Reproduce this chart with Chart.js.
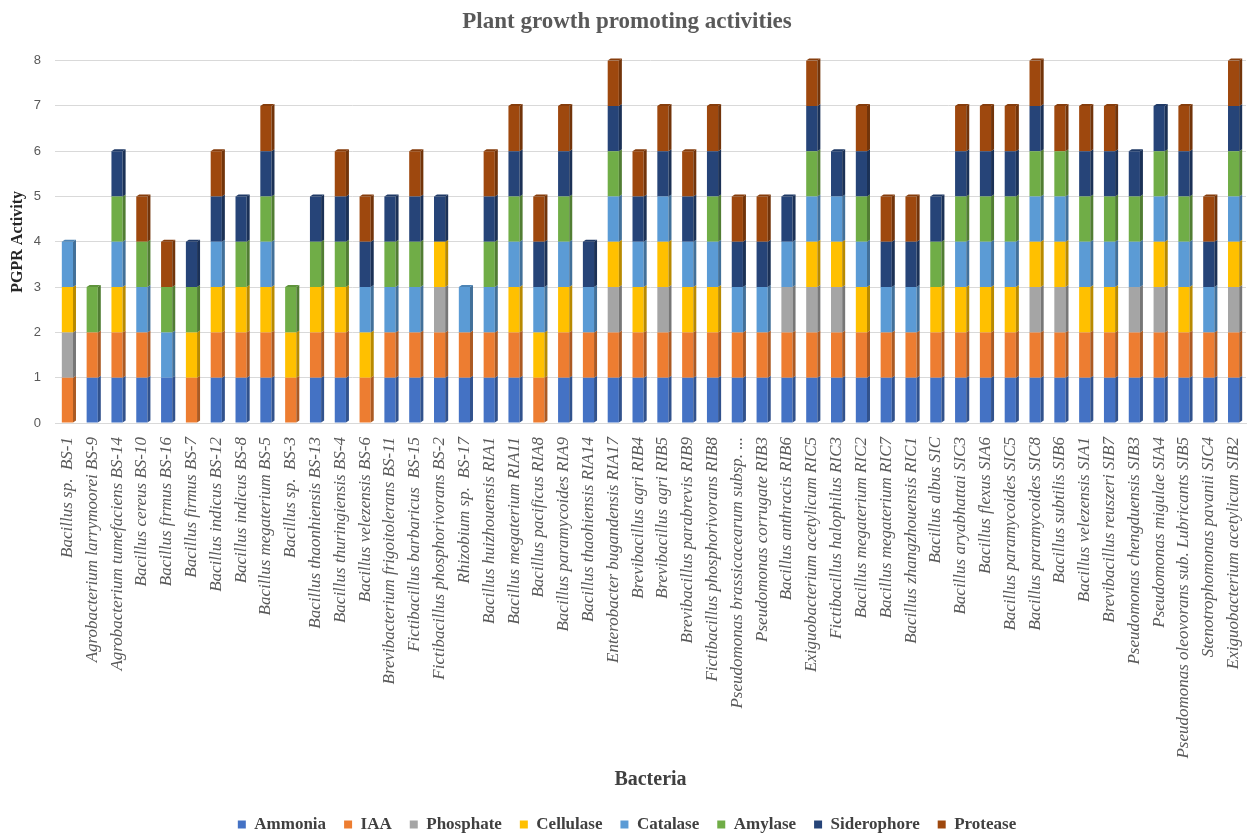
<!DOCTYPE html>
<html>
<head>
<meta charset="utf-8">
<title>Plant growth promoting activities</title>
<script src="https://cdn.jsdelivr.net/npm/chart.js@4.4.1/dist/chart.umd.min.js"></script>
<style>
  html, body { margin: 0; padding: 0; background: #ffffff; }
  #wrap { width: 1247px; height: 838px; position: relative; }
</style>
</head>
<body>
<div id="wrap"><canvas id="pgpr" width="1247" height="838"></canvas></div>
<script>
// Bacterial isolates (x-axis categories)
const isolates = [
  "Bacillus sp.  BS-1", "Agrobacterium larrymoorei BS-9", "Agrobacterium tumefaciens BS-14",
  "Bacillus cereus BS-10", "Bacillus firmus BS-16", "Bacillus firmus BS-7",
  "Bacillus indicus BS-12", "Bacillus indicus BS-8", "Bacillus megaterium BS-5",
  "Bacillus sp.  BS-3", "Bacillus thaonhiensis BS-13", "Bacillus thuringiensis BS-4",
  "Bacillus velezensis BS-6", "Brevibacterium frigoitolerans BS-11", "Fictibacillus barbaricus  BS-15",
  "Fictibacillus phosphorivorans BS-2", "Rhizobium sp.  BS-17", "Bacillus huizhouensis RIA1",
  "Bacillus megaterium RIA11", "Bacillus pacificus RIA8", "Bacillus paramycoides RIA9",
  "Bacillus thaohiensis RIA14", "Enterobacter bugandensis RIA17", "Brevibacillus agri RIB4",
  "Brevibacillus agri RIB5", "Brevibacillus parabrevis RIB9", "Fictibacillus phosphorivorans RIB8",
  "Pseudomonas brassicacearum subsp. ...", "Pseudomonas corrugate RIB3", "Bacillus anthracis RIB6",
  "Exiguobacterium acetylicum RIC5", "Fictibacillus halophilus RIC3", "Bacillus megaterium RIC2",
  "Bacillus megaterium RIC7", "Bacillus zhangzhouensis RIC1", "Bacillus albus SIC",
  "Bacillus aryabhattai SIC3", "Bacillus flexus SIA6", "Bacillus paramycoides SIC5",
  "Bacillus paramycoides SIC8", "Bacillus subtilis SIB6", "Bacillus velezensis SIA1",
  "Brevibacillus reuszeri SIB7", "Pseudomonas chengduensis SIB3", "Pseudomonas migulae SIA4",
  "Pseudomonas oleovorans sub. Lubricants SIB5", "Stenotrophomonas pavanii SIC4", "Exiguobacterium acetylicum SIB2"
];

// Activity scores per test (1 = positive, 0 = negative), one entry per isolate
const ammonia     = [0,1,1,1,1,0,1,1,1,0,1,1,0,1,1,1,1,1,1,0,1,1,1,1,1,1,1,1,1,1,1,1,1,1,1,1,1,1,1,1,1,1,1,1,1,1,1,1];
const iaa         = [1,1,1,1,0,1,1,1,1,1,1,1,1,1,1,1,1,1,1,1,1,1,1,1,1,1,1,1,1,1,1,1,1,1,1,1,1,1,1,1,1,1,1,1,1,1,1,1];
const phosphate   = [1,0,0,0,0,0,0,0,0,0,0,0,0,0,0,1,0,0,0,0,0,0,1,0,1,0,0,0,0,1,1,1,0,0,0,0,0,0,0,1,1,0,0,1,1,0,0,1];
const cellulase   = [1,0,1,0,0,1,1,1,1,1,1,1,1,0,0,1,0,0,1,1,1,0,1,1,1,1,1,0,0,0,1,1,1,0,0,1,1,1,1,1,1,1,1,0,1,1,0,1];
const catalase    = [1,0,1,1,1,0,1,0,1,0,0,0,1,1,1,0,1,1,1,1,1,1,1,1,1,1,1,1,1,1,1,1,1,1,1,0,1,1,1,1,1,1,1,1,1,1,1,1];
const amylase     = [0,1,1,1,1,1,0,1,1,1,1,1,0,1,1,0,0,1,1,0,1,0,1,0,0,0,1,0,0,0,1,0,1,0,0,1,1,1,1,1,1,1,1,1,1,1,0,1];
const siderophore = [0,0,1,0,0,1,1,1,1,0,1,1,1,1,1,1,0,1,1,1,1,1,1,1,1,1,1,1,1,1,1,1,1,1,1,1,1,1,1,1,0,1,1,1,1,1,1,1];
const protease    = [0,0,0,1,1,0,1,0,1,0,0,1,1,0,1,0,0,1,1,1,1,0,1,1,1,1,1,1,1,0,1,0,1,1,1,0,1,1,1,1,1,1,1,0,0,1,1,1];

// Y-axis tick values
const yTicks = [0, 1, 2, 3, 4, 5, 6, 7, 8];

const serif = "'Liberation Serif', 'Times New Roman', serif";
const sans = "'Liberation Sans', Arial, sans-serif";

const seriesDefs = [
  { label: "Ammonia",     data: ammonia,     color: "#4472C4" },
  { label: "IAA",         data: iaa,         color: "#ED7D31" },
  { label: "Phosphate",   data: phosphate,   color: "#A5A5A5" },
  { label: "Cellulase",   data: cellulase,   color: "#FFC000" },
  { label: "Catalase",    data: catalase,    color: "#5B9BD5" },
  { label: "Amylase",     data: amylase,     color: "#70AD47" },
  { label: "Siderophore", data: siderophore, color: "#264478" },
  { label: "Protease",    data: protease,    color: "#9E480E" }
];

function shade(hex, f) {
  const n = parseInt(hex.slice(1), 16);
  const r = Math.round(((n >> 16) & 255) * f);
  const g = Math.round(((n >> 8) & 255) * f);
  const b = Math.round((n & 255) * f);
  return `rgb(${r},${g},${b})`;
}

// Gives each column a shaded side face and a lid, like a 3-D column chart
const depthPlugin = {
  id: "depth",
  afterDatasetsDraw(chart) {
    const ctx = chart.ctx;
    const dx = 3, dy = 2;
    const n = chart.data.labels.length;
    const topIdx = new Array(n).fill(-1);
    chart.data.datasets.forEach((ds, di) => {
      ds.data.forEach((v, i) => { if (v > 0) topIdx[i] = di; });
    });
    ctx.save();
    chart.data.datasets.forEach((ds, di) => {
      const meta = chart.getDatasetMeta(di);
      meta.data.forEach((bar, i) => {
        if (!(ds.data[i] > 0)) return;
        const p = bar.getProps(["x", "y", "base", "width"], true);
        const right = p.x + p.width / 2;
        const left = p.x - p.width / 2;
        ctx.fillStyle = shade(ds.backgroundColor, 0.72);
        ctx.beginPath();
        ctx.moveTo(right, p.y);
        ctx.lineTo(right + dx, p.y - dy);
        ctx.lineTo(right + dx, p.base - dy);
        ctx.lineTo(right, p.base);
        ctx.closePath();
        ctx.fill();
        if (topIdx[i] === di) {
          ctx.fillStyle = shade(ds.backgroundColor, 0.85);
          ctx.beginPath();
          ctx.moveTo(left, p.y);
          ctx.lineTo(left + dx, p.y - dy);
          ctx.lineTo(right + dx, p.y - dy);
          ctx.lineTo(right, p.y);
          ctx.closePath();
          ctx.fill();
        }
      });
    });
    ctx.restore();
  }
};

new Chart(document.getElementById("pgpr"), {
  type: "bar",
  data: {
    labels: isolates,
    datasets: seriesDefs.map(s => ({
      label: s.label,
      data: s.data,
      backgroundColor: s.color,
      borderWidth: 0,
      barPercentage: 0.45,
      categoryPercentage: 1.0
    }))
  },
  plugins: [depthPlugin],
  options: {
    responsive: false,
    animation: false,
    devicePixelRatio: 1,
    layout: { padding: { left: 8, right: 1, top: 8, bottom: -5 } },
    plugins: {
      title: {
        display: true,
        text: "Plant growth promoting activities",
        color: "#595959",
        font: { family: serif, size: 23, weight: "bold" },
        padding: { top: 0, bottom: 25 }
      },
      legend: {
        position: "bottom",
        labels: {
          boxWidth: 8,
          boxHeight: 8,
          padding: 18,
          color: "#404040",
          font: { family: serif, size: 17, weight: "bold" }
        }
      },
      tooltip: { enabled: false }
    },
    scales: {
      x: {
        stacked: true,
        grid: { display: false },
        border: { display: true, color: "#d9d9d9" },
        ticks: {
          autoSkip: false,
          maxRotation: 90,
          minRotation: 90,
          padding: 6,
          color: "#595959",
          font: { family: serif, size: 17, style: "italic" }
        },
        title: {
          display: true,
          text: "Bacteria",
          color: "#404040",
          font: { family: serif, size: 20, weight: "bold" },
          padding: { top: 4, bottom: 6 }
        },
        afterFit(scale) {
          scale.height = 375;
          scale.paddingLeft = 0;
          scale.paddingRight = 0;
        }
      },
      y: {
        stacked: true,
        min: yTicks[0],
        max: yTicks[yTicks.length - 1],
        afterBuildTicks(scale) { scale.ticks = yTicks.map(v => ({ value: v })); },
        grid: { color: "#d9d9d9", drawTicks: false },
        border: { display: false },
        ticks: {
          padding: 14,
          color: "#595959",
          font: { family: sans, size: 13 }
        },
        title: {
          display: true,
          text: "PGPR Activity",
          color: "#262626",
          font: { family: serif, size: 16, weight: "bold" },
          padding: { top: 0, bottom: 0 }
        },
        afterFit(scale) { scale.width = 47; }
      }
    }
  }
});
</script>
</body>
</html>
